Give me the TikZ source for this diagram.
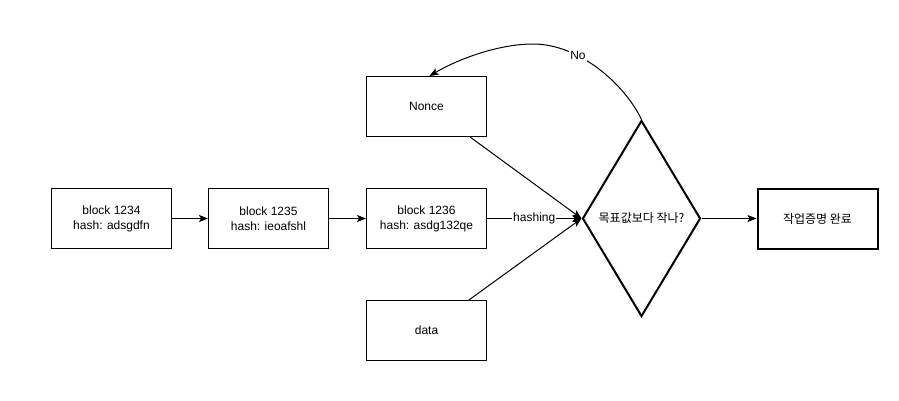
\documentclass[tikz,border=0pt]{standalone}
\usepackage{fontspec}
\setmainfont{Liberation Sans}
\newfontfamily\cjk{Noto Sans CJK KR}
\usetikzlibrary{arrows.meta,shapes.geometric,calc}
\begin{document}
\begin{tikzpicture}[x=1pt,y=-1pt,
  txt/.style={font=\fontsize{12}{15}\selectfont},
  box/.style={draw,line width=1pt,minimum width=120pt,minimum height=60pt,align=center,inner sep=0pt,txt},
  thickbox/.style={box,line width=2pt},
  dia/.style={draw,diamond,line width=2pt,minimum width=118pt,minimum height=196pt,inner sep=0pt,aspect=1,txt},
  arr/.style={line width=1pt,-{Stealth[length=9pt,width=7pt,inset=2pt]}},
  lbl/.style={fill=white,inner sep=1pt,txt}]
\useasboundingbox (0,0) rectangle (899,400);
\node[box] (b1) at (111.5,218.5) {block 1234\\hash: adsgdfn};
\node[box] (b2) at (268.5,218.5) {block 1235\\hash: ieoafshl};
\node[box] (b3) at (426.5,218.5) {block 1236\\hash: asdg132qe};
\node[box] (nonce) at (426.5,106.5) {Nonce};
\node[box] (data) at (426.5,330.5) {data};
\node[dia] (d) at (641.5,218.5) {\cjk 목표값보다 작나?};
\node[thickbox] (ok) at (817.5,218.5) {\cjk 작업증명 완료};
\draw[arr] (b1.east) -- (b2.west);
\draw[arr] (b2.east) -- (b3.west);
\draw[arr] (b3.east) -- node[lbl] (hl) {hashing} (d.west);
\draw[arr] ($(nonce.south west)!0.86!(nonce.south east)$) -- (d.west);
\draw[arr] ($(data.north west)!0.85!(data.north east)$) -- (d.west);
\draw[arr] (d.east) -- (ok.west);
\draw[arr] (d.north) .. controls (625,85) and (580,44) .. node[lbl,pos=0.67] (no) {No} (533,44)
  .. controls (500,44) and (460,58) .. ($(nonce.north)+(3,0)$);
\end{tikzpicture}
\end{document}
